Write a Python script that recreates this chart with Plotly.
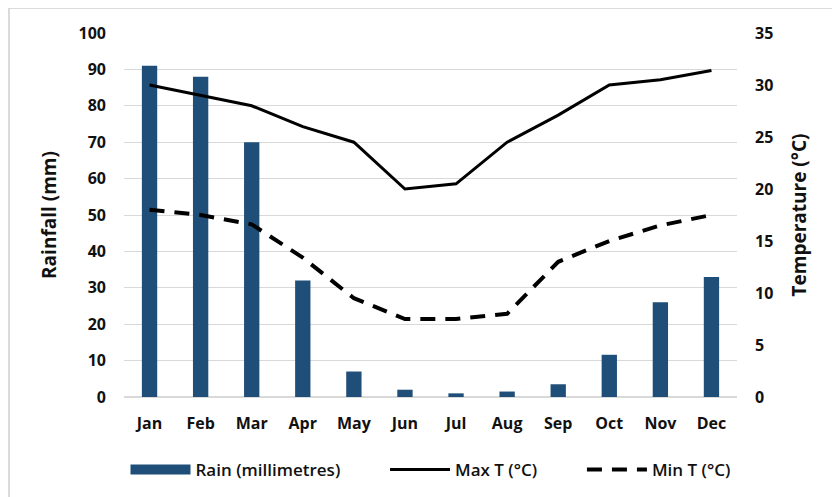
import plotly.graph_objects as go

months = ["Jan", "Feb", "Mar", "Apr", "May", "Jun", "Jul", "Aug", "Sep", "Oct", "Nov", "Dec"]
rain_mm = [91, 88, 70, 32, 7, 2, 1, 1.5, 3.5, 11.6, 26, 33]
max_t = [30, 29, 28, 26, 24.5, 20, 20.5, 24.5, 27.1, 30, 30.5, 31.4]
min_t = [18, 17.5, 16.6, 13.4, 9.5, 7.5, 7.5, 8, 13, 15, 16.5, 17.5]

FONT = "Open Sans"
BAR_COLOR = "#1f4e79"
OFF = 8  # page body margin of the browser
W, H = 840 - OFF, 497 - OFF
L, R, T, B = 124 - OFF, 737 - OFF, 33 - OFF, 397 - OFF
GAP = "\u00a0" * 9

fig = go.Figure()
fig.add_trace(go.Bar(x=months, y=rain_mm, name="Rain (millimetres)", showlegend=False,
                     marker=dict(color=BAR_COLOR, line=dict(width=0)), yaxis="y"))
# legend entry for the bars (wide rectangle swatch)
fig.add_trace(go.Scatter(x=[None], y=[None], name="Rain (millimetres)" + GAP, mode="lines",
                         line=dict(color=BAR_COLOR, width=11), yaxis="y"))
fig.add_trace(go.Scatter(x=months, y=max_t, name="Max T (°C)" + GAP, mode="lines",
                         line=dict(color="black", width=3), yaxis="y2"))
fig.add_trace(go.Scatter(x=months, y=min_t, name="Min T (°C)", mode="lines",
                         line=dict(color="black", width=4, dash="15px,10px"), yaxis="y2"))

def px_x(x):
    return (x - OFF - L) / (R - L)

def px_y(y):
    return (B - (y - OFF)) / (B - T)

fig.update_layout(
    width=W, height=H,
    margin=dict(l=L, r=W - R, t=T, b=H - B, autoexpand=False),
    paper_bgcolor="white", plot_bgcolor="white",
    font=dict(family=FONT, color="#111111", size=16),
    bargap=0.7,
    showlegend=True,
    legend=dict(orientation="h", x=0.5, xanchor="center", y=px_y(470), yanchor="middle",
                font=dict(family=FONT, size=17, color="#111111", weight=600),
                itemwidth=60, tracegroupgap=0, traceorder="normal"),
    xaxis=dict(showgrid=False, showline=False, ticks="", tickfont=dict(size=16, weight="bold"),
               ticklabelstandoff=15),
    yaxis=dict(range=[0, 100], dtick=10, showgrid=True, gridcolor="#d9d9d9", gridwidth=1,
               zeroline=True, zerolinecolor="#d9d9d9", showline=False, ticks="",
               tickfont=dict(size=16, weight="bold"), ticklabelstandoff=17,
               title=dict(text="Rainfall (mm)", font=dict(size=19, weight="bold"), standoff=16)),
    yaxis2=dict(range=[0, 35], dtick=5, overlaying="y", side="right", showgrid=False,
                zeroline=False, showline=False, ticks="",
                tickfont=dict(size=16, weight="bold"), ticklabelstandoff=17,
                title=dict(text="Temperature (°C)", font=dict(size=19, weight="bold"), standoff=20)),
    shapes=[dict(type="rect", xref="paper", yref="paper",
                 x0=px_x(9), x1=px_x(835), y0=px_y(530), y1=px_y(8),
                 line=dict(color="#d0d0d0", width=1.5), fillcolor="rgba(0,0,0,0)", layer="below")],
)

fig.write_html("out.html")
